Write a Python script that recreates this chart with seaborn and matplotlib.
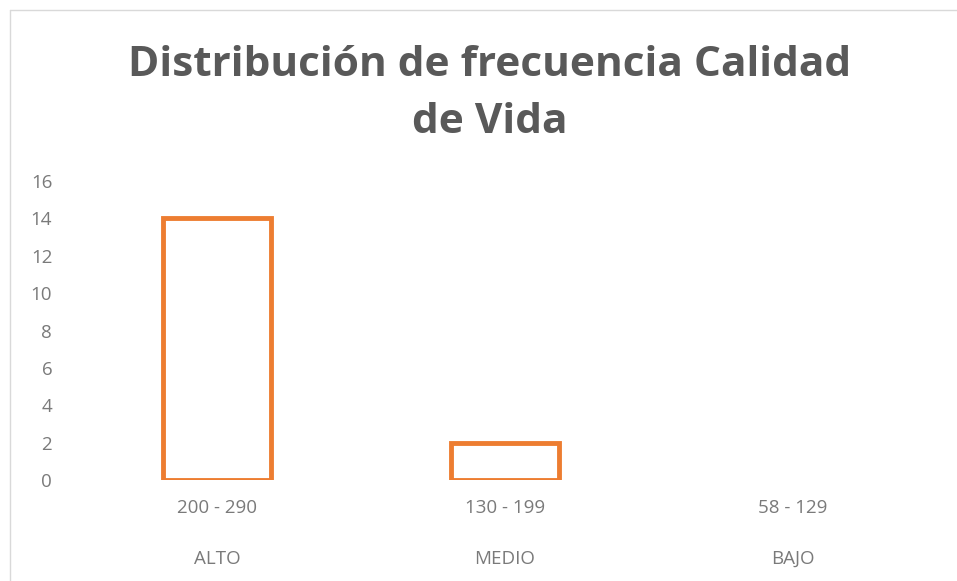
import matplotlib
matplotlib.use("Agg")
import matplotlib.pyplot as plt
import matplotlib.transforms as mtransforms
from matplotlib.lines import Line2D
import pandas as pd
import seaborn as sns

# datos del grafico
niveles = ["ALTO", "MEDIO", "BAJO"]
rangos = ["200 - 290", "130 - 199", "58 - 129"]
frecuencia = [14, 2, 0]
yticks = [0, 2, 4, 6, 8, 10, 12, 14, 16]

titulo = "Distribución de frecuencia Calidad\nde Vida"
naranja = "#ED7D31"
gris_titulo = "#595959"
gris = "#7a7a7a"

sns.set_theme(style="white")
plt.rcParams["font.family"] = ["Open Sans", "DejaVu Sans"]

df = pd.DataFrame({"rango": rangos, "nivel": niveles, "frecuencia": frecuencia})

fig = plt.figure(figsize=(9.57, 5.81), dpi=100)
ax = fig.add_axes([0.0763, 0.1738, 0.9027, 0.5147])

sns.barplot(data=df, x="rango", y="frecuencia", ax=ax, color="white",
            edgecolor=naranja, linewidth=3.5, width=0.375, saturation=1)

# Excel no dibuja barra para valor cero
for p in ax.patches:
    if p.get_height() == 0:
        p.set_visible(False)

ax.set_xlim(-0.5, 2.5)
ax.set_ylim(0, 16)
ax.set_yticks(yticks)
ax.set_xlabel("")
ax.set_ylabel("")
sns.despine(ax=ax, left=True, bottom=True)
ax.tick_params(axis="y", length=0, pad=15, labelsize=13.5, labelcolor=gris)
ax.tick_params(axis="x", length=0, pad=14, labelsize=13.5, labelcolor=gris)

# segundo nivel de etiquetas (categorias)
trans = mtransforms.blended_transform_factory(ax.transData, ax.transAxes)
for i, nivel in enumerate(niveles):
    ax.text(i, -0.264, nivel, transform=trans, ha="center", va="center",
            fontsize=13.5, color=gris)

fig.text(0.512, 0.838, titulo, ha="center", va="center", fontsize=30.5,
         fontweight="bold", color=gris_titulo, linespacing=1.5)

# borde del area del grafico
fig.add_artist(Line2D([10 / 957, 10 / 957], [0, 1 - 10 / 581],
                      transform=fig.transFigure, color="#d9d9d9", lw=1))
fig.add_artist(Line2D([10 / 957, 1], [1 - 10 / 581, 1 - 10 / 581],
                      transform=fig.transFigure, color="#d9d9d9", lw=1))

fig.savefig("out.png", dpi=100, facecolor="white")
